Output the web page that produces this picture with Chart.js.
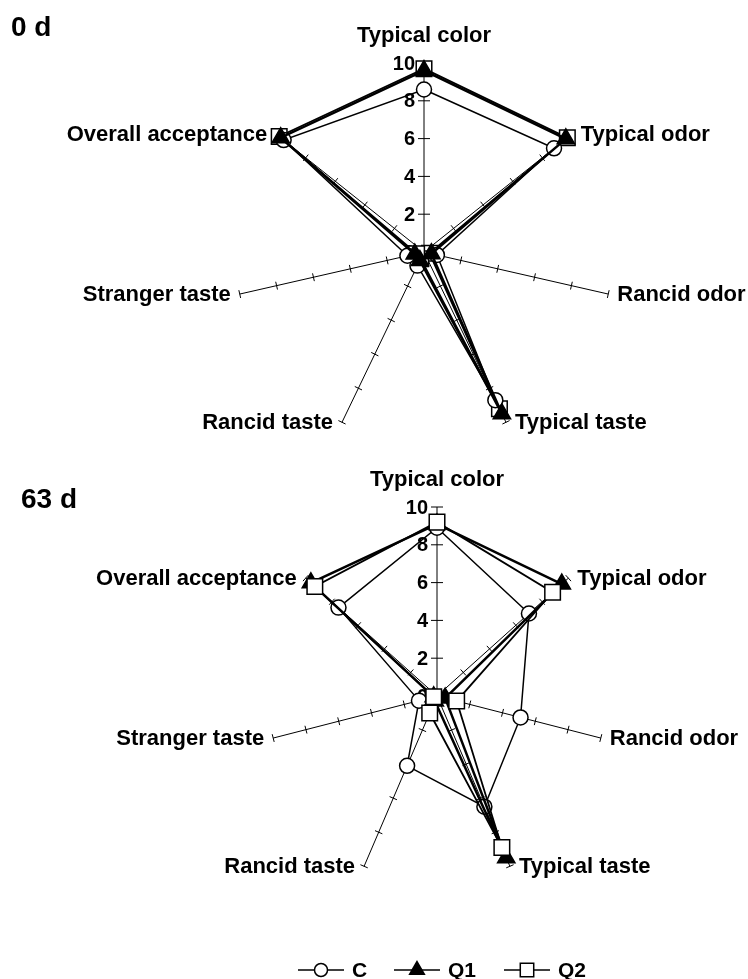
<!DOCTYPE html>
<html>
<head>
<meta charset="utf-8">
<script src="https://cdn.jsdelivr.net/npm/chart.js@4.4.1/dist/chart.umd.min.js"></script>
<style>
  html, body { margin: 0; padding: 0; background: #fff; }
  #wrap { position: relative; width: 748px; height: 979px; overflow: hidden; }
  .panel { position: absolute; left: 0; width: 748px; }
  #topPanel { top: 0; height: 470px; }
  #bottomPanel { top: 470px; height: 509px; }
</style>
</head>
<body>
<div id="wrap">
  <div class="panel" id="topPanel"><canvas id="day0" width="748" height="470"></canvas></div>
  <div class="panel" id="bottomPanel"><canvas id="day63" width="748" height="509"></canvas></div>
</div>
<script>
// Sensory attributes (radar axes), series and scale ticks
const attributes = ['Typical color', 'Typical odor', 'Rancid odor', 'Typical taste',
                    'Rancid taste', 'Stranger taste', 'Overall acceptance'];
const seriesNames = ['C', 'Q1', 'Q2'];
const tickValues = [0, 2, 4, 6, 8, 10];

// Scores after 0 days of storage
const day0C  = [8.6, 8.8, 0.7, 8.7, 0.8, 0.9, 9.5];
const day0Q1 = [9.6, 9.6, 0.4, 9.5, 0.5, 0.5, 9.7];
const day0Q2 = [9.7, 9.7, 0.3, 9.2, 0.4, 0.4, 9.8];

// Scores after 63 days of storage
const day63C  = [8.9, 7.0, 5.1, 6.5, 4.1, 1.1, 7.5];
const day63Q1 = [9.1, 9.5, 0.5, 9.5, 0.3, 0.2, 9.6];
const day63Q2 = [9.2, 8.8, 1.2, 8.9, 1.0, 0.2, 9.3];

const FONT = '"Liberation Sans", Arial, Helvetica, sans-serif';

// Radial scale that can be stretched horizontally (oval plot area)
const BaseRadial = Chart.RadialLinearScale || Chart.registry.getScale('radialLinear');
class OvalRadialScale extends BaseRadial {
  getPointPosition(index, distanceFromCenter, additionalAngle) {
    const p = super.getPointPosition(index, distanceFromCenter, additionalAngle || 0);
    const k = this.options.xStretch || 1;
    return { x: this.xCenter + (p.x - this.xCenter) * k, y: p.y, angle: p.angle };
  }
}
OvalRadialScale.id = 'ovalRadial';
OvalRadialScale.defaults = BaseRadial.defaults;
OvalRadialScale.defaultRoutes = BaseRadial.defaultRoutes;
OvalRadialScale.descriptors = BaseRadial.descriptors;
Chart.register(OvalRadialScale);

// Axis tick marks, value labels, attribute names and panel title
function axisDecor(cfg) {
  return {
    id: 'axisDecor',
    beforeDatasetsDraw(chart) {
      const s = chart.scales.r;
      const ctx = chart.ctx;
      ctx.save();
      ctx.strokeStyle = '#000';
      ctx.lineWidth = 1;
      attributes.forEach((_, i) => {
        const o = s.getPointPositionForValue(i, 0);
        const e = s.getPointPositionForValue(i, 10);
        const dx = e.x - o.x, dy = e.y - o.y, len = Math.hypot(dx, dy);
        const nx = -dy / len, ny = dx / len;
        const half = i === 0 ? 6 : 4;
        tickValues.forEach(v => {
          if (v === 0) return;
          const p = s.getPointPositionForValue(i, v);
          ctx.beginPath();
          ctx.moveTo(p.x - nx * half, p.y - ny * half);
          ctx.lineTo(p.x + nx * half, p.y + ny * half);
          ctx.stroke();
        });
      });
      // value labels along the first axis
      ctx.fillStyle = '#000';
      ctx.font = 'bold 20px ' + FONT;
      ctx.textAlign = 'right';
      ctx.textBaseline = 'middle';
      tickValues.forEach(v => {
        const p = s.getPointPositionForValue(0, v);
        ctx.fillText(String(v), p.x - 9, p.y + 1);
      });
      // attribute names at the end of each axis
      ctx.font = 'bold 22px ' + FONT;
      attributes.forEach((name, i) => {
        const e = s.getPointPositionForValue(i, 10);
        if (i === 0) {
          ctx.textAlign = 'center';
          ctx.fillText(name, e.x, e.y - 27);
        } else if (e.x > s.xCenter) {
          ctx.textAlign = 'left';
          ctx.fillText(name, e.x + 9, e.y + 1);
        } else {
          ctx.textAlign = 'right';
          ctx.fillText(name, e.x - 9, e.y + 1);
        }
      });
      // panel title
      ctx.textAlign = 'left';
      ctx.font = 'bold 28px ' + FONT;
      ctx.fillText(cfg.title, cfg.titleX, cfg.titleY);
      ctx.restore();
    },
    afterDraw(chart) {
      if (!cfg.legendY) return;
      const ctx = chart.ctx;
      const y = cfg.legendY;
      const items = [
        { name: seriesNames[0], style: 'circle', radius: 6.5, fill: '#fff', x0: 298 },
        { name: seriesNames[1], style: 'triangle', radius: 8.5, fill: '#000', x0: 394 },
        { name: seriesNames[2], style: 'rect', radius: 9.5, fill: '#fff', x0: 504 }
      ];
      ctx.save();
      ctx.strokeStyle = '#000';
      ctx.font = 'bold 21px ' + FONT;
      ctx.textAlign = 'left';
      ctx.textBaseline = 'middle';
      items.forEach(it => {
        ctx.lineWidth = 1.5;
        ctx.beginPath();
        ctx.moveTo(it.x0, y);
        ctx.lineTo(it.x0 + 46, y);
        ctx.stroke();
        ctx.fillStyle = it.fill;
        Chart.helpers.drawPoint(ctx, { pointStyle: it.style, radius: it.radius, borderWidth: 1.5, rotation: 0 },
          it.x0 + 23, y);
        ctx.fillStyle = '#000';
        ctx.fillText(it.name, it.x0 + 54, y + 1);
      });
      ctx.restore();
    }
  };
}

function radarPanel(canvasId, values, cfg) {
  const styles = [
    { pointStyle: 'circle',   pointRadius: 7.5,  bg: '#fff', lw: 1.5 },
    { pointStyle: 'triangle', pointRadius: 10,   bg: '#000', lw: 2.5 },
    { pointStyle: 'rect',     pointRadius: 11,   bg: '#fff', lw: 1.8 }
  ];
  const datasets = values.map((vals, k) => ({
    label: seriesNames[k],
    data: vals,
    order: cfg.order[k],
    fill: false,
    borderColor: '#000',
    borderWidth: styles[k].lw,
    pointStyle: styles[k].pointStyle,
    pointRadius: styles[k].pointRadius,
    pointHoverRadius: styles[k].pointRadius,
    pointBackgroundColor: styles[k].bg,
    pointBorderColor: '#000',
    pointBorderWidth: 1.5,
    tension: 0
  }));
  return new Chart(document.getElementById(canvasId), {
    type: 'radar',
    data: { labels: attributes, datasets },
    options: {
      responsive: false,
      animation: false,
      devicePixelRatio: 1,
      layout: { padding: cfg.padding },
      plugins: { legend: { display: false }, tooltip: { enabled: false } },
      scales: {
        r: {
          type: 'ovalRadial',
          xStretch: cfg.stretch,
          min: 0,
          max: 10,
          beginAtZero: true,
          ticks: { display: false, stepSize: 2 },
          grid: { display: false },
          angleLines: { display: true, color: '#000', lineWidth: 1 },
          pointLabels: { display: false }
        }
      }
    },
    plugins: [axisDecor(cfg)]
  });
}

radarPanel('day0', [day0C, day0Q1, day0Q2], {
  padding: { left: 235, right: 135, top: 63, bottom: 29 },
  stretch: 1,
  order: [1, 0, 2],
  title: '0 d', titleX: 11, titleY: 28
});

radarPanel('day63', [day63C, day63Q1, day63Q2], {
  padding: { left: 248, right: 122, top: 37, bottom: 94 },
  stretch: 0.889,
  order: [2, 1, 0],
  title: '63 d', titleX: 21, titleY: 30,
  legendY: 500
});
</script>
</body>
</html>
